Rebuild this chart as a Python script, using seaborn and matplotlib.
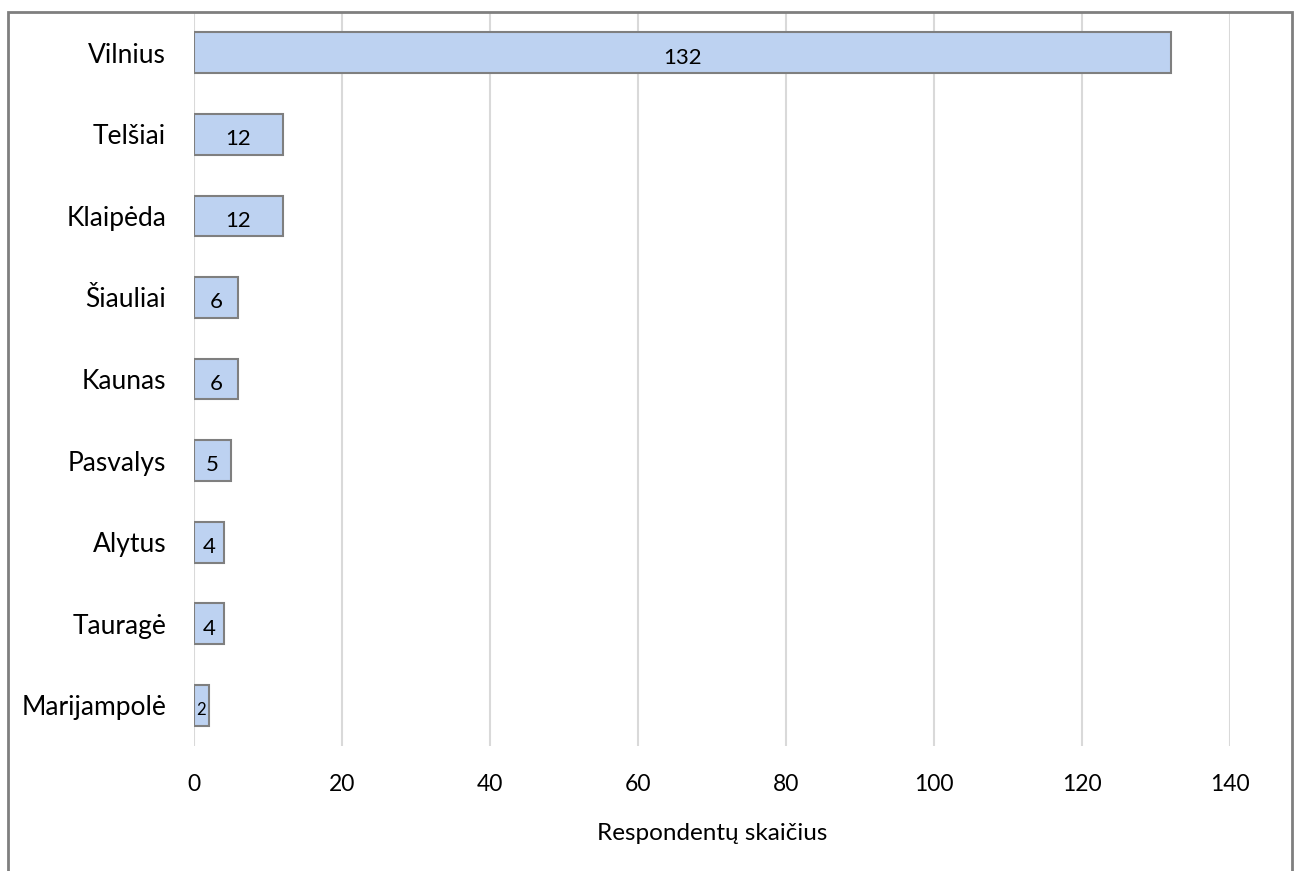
import matplotlib
matplotlib.use("Agg")
import matplotlib.pyplot as plt
import seaborn as sns
import pandas as pd
from matplotlib.patches import Rectangle

cities = ["Vilnius", "Telšiai", "Klaipėda", "Šiauliai", "Kaunas",
          "Pasvalys", "Alytus", "Tauragė", "Marijampolė"]
counts = [132, 12, 12, 6, 6, 5, 4, 4, 2]
x_ticks = [0, 20, 40, 60, 80, 100, 120, 140]
x_label = "Respondentų skaičius"

df = pd.DataFrame({"city": cities, "count": counts})

sns.set_theme(style="white")
plt.rcParams['font.family'] = ['Lato', 'DejaVu Sans']

fig = plt.figure(figsize=(12.99, 8.71), dpi=100)
ax = fig.add_axes([194/1299, 1 - 746/871, (1230-194)/1299, (746-12)/871])

sns.barplot(data=df, y="city", x="count", orient="h", ax=ax,
            color="#bdd2f1", edgecolor="#7f7f7f", linewidth=1.5,
            width=0.5, saturation=1)

ax.set_xlim(0, 140)
ax.set_xticks(x_ticks)
ax.xaxis.grid(True, color="#d9d9d9", linewidth=1.5)
ax.set_axisbelow(True)
for s in ax.spines.values():
    s.set_visible(False)
ax.tick_params(axis="x", length=0, pad=20, labelsize=16.5, colors="black")
ax.tick_params(axis="y", length=0, pad=20, labelsize=19, colors="black")
ax.set_ylabel("")
ax.set_xlabel(x_label, fontsize=17.5, labelpad=20, color="black")

cont = ax.containers[0]
labels = ax.bar_label(cont, label_type="center", fontsize=16, color="black")
for t, v in zip(labels, counts):
    if v < 3:
        t.set_fontsize(12)
    t.xyann = (0, -3.5)

fig.patches.append(Rectangle((8/1299, -0.05), (1292-8)/1299, 1.05 - 12/871,
                             transform=fig.transFigure, fill=False,
                             edgecolor="#7f7f7f", linewidth=2))

fig.savefig("out.png", dpi=100)
